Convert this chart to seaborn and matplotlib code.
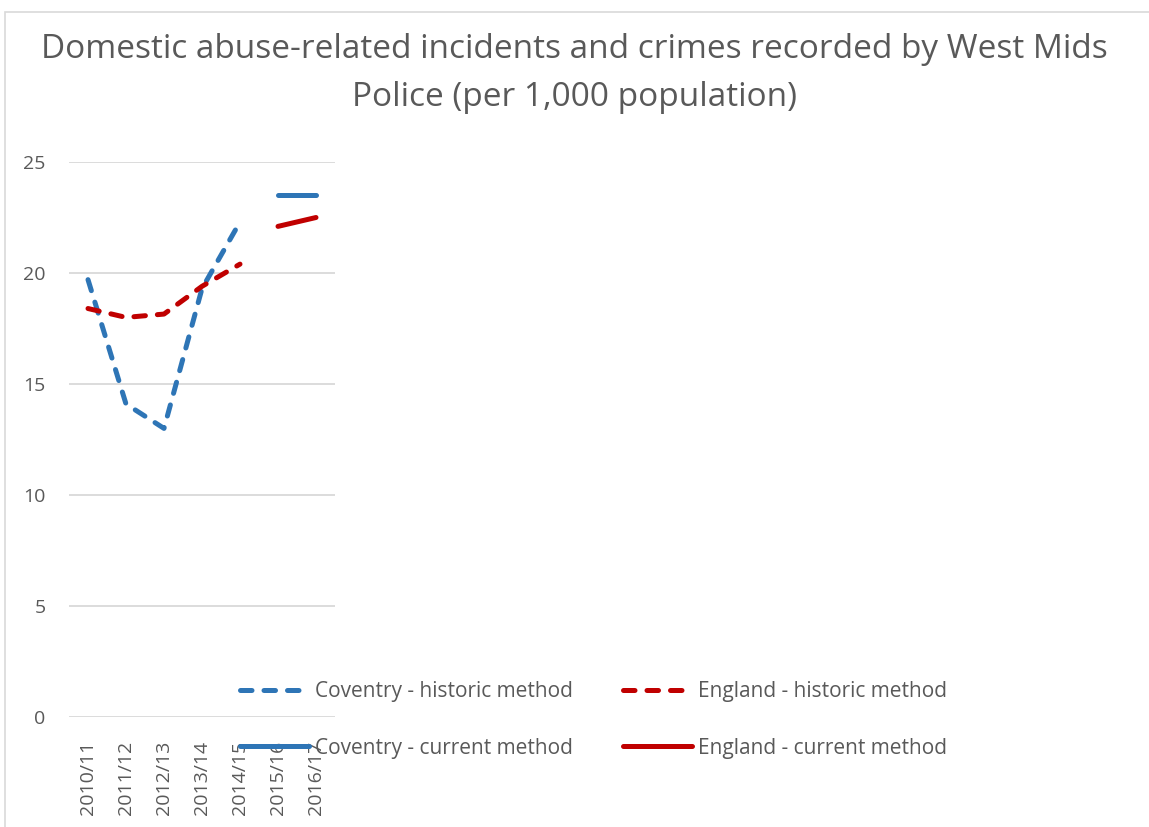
import numpy as np
import pandas as pd
import seaborn as sns
import matplotlib.pyplot as plt
from matplotlib.patches import Rectangle

years = ["2010/11", "2011/12", "2012/13", "2013/14", "2014/15", "2015/16", "2016/17"]
cov_hist = [19.7, 14.1, 13.0, 19.3, 22.3]
eng_hist = [18.4, 18.0, 18.15, 19.4, 20.4]
cov_curr = [23.5, 23.5]
eng_curr = [22.1, 22.5]

blue = "#2E75B6"
red = "#C00000"
grey = "#595959"

sns.set_style("white")
plt.rcParams["font.family"] = ["Open Sans", "DejaVu Sans"]

fig = plt.figure(figsize=(11.49, 8.27), dpi=100)
ax = fig.add_axes([69 / 1149, 110 / 827, 266 / 1149, 555 / 827])

# chart border
fig.patches.append(Rectangle((5 / 1149, -0.1), 1.2, 1 - 12 / 827 + 0.1,
                             transform=fig.transFigure, fill=False,
                             edgecolor="#D9D9D9", lw=1.2))

x_hist = np.arange(0, 5)
x_curr = np.arange(5, 7)

lw = 3.6
series = [
    (x_hist, cov_hist, blue, True, "Coventry - historic method"),
    (x_curr, cov_curr, blue, False, "Coventry - current method"),
    (x_hist, eng_hist, red, True, "England - historic method"),
    (x_curr, eng_curr, red, False, "England - current method"),
]
for xs, ys, c, dashed, lab in series:
    df = pd.DataFrame({"x": xs, "y": ys})
    sns.lineplot(data=df, x="x", y="y", ax=ax, color=c, lw=lw, label=lab,
                 solid_capstyle="round", dash_capstyle="round")
    if dashed:
        ax.lines[-1].set_dashes((2.3, 2.4))

ax.set_xlim(-0.5, 6.5)
ax.set_ylim(0, 25)
ax.set_yticks([0, 5, 10, 15, 20, 25])
ax.set_xticks(range(len(years)))
ax.set_xticklabels(years, rotation=90, va="top")
ax.tick_params(axis="x", length=0, pad=17, labelsize=14, labelcolor=grey)
ax.tick_params(axis="y", length=0, pad=17, labelsize=14, labelcolor=grey)
ax.yaxis.grid(True, color="#D9D9D9", lw=1.3)
ax.set_axisbelow(True)
for s in ax.spines.values():
    s.set_visible(False)
ax.set_xlabel("")
ax.set_ylabel("")

handles, labels = ax.get_legend_handles_labels()
ax.get_legend().remove()
fig.legend(handles, labels, ncol=2, loc="center left",
           bbox_to_anchor=(240 / 1149, 1 - 720 / 827), frameon=False,
           borderpad=0, borderaxespad=0,
           fontsize=15, labelcolor=grey, handlelength=3.3, handletextpad=0.3,
           columnspacing=2.4, labelspacing=1.7)

fig.text(0.5, 1 - 50 / 827, "Domestic abuse-related incidents and crimes recorded by West Mids",
         ha="center", va="center", fontsize=24, color=grey)
fig.text(0.5, 1 - 97 / 827, "Police (per 1,000 population)",
         ha="center", va="center", fontsize=24, color=grey)

fig.savefig("out.png", dpi=100)
